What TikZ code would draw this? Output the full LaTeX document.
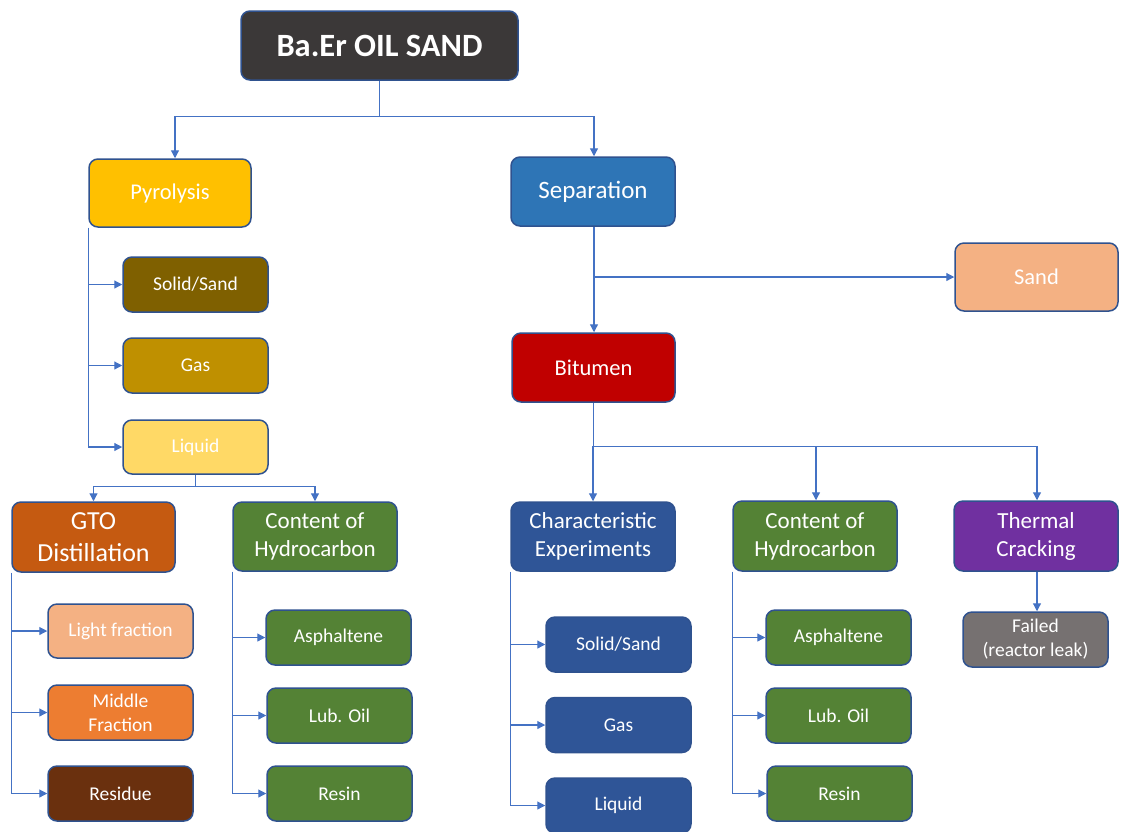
\documentclass[tikz,border=0pt]{standalone}
\usepackage{fontspec}
\setmainfont{Carlito}
\usetikzlibrary{arrows.meta}
\definecolor{bordc}{HTML}{2F528F}
\definecolor{connc}{HTML}{4472C4}
\definecolor{cRoot}{HTML}{3B3838}
\definecolor{cPyro}{HTML}{FFC000}
\definecolor{cSep}{HTML}{2E75B6}
\definecolor{cSand}{HTML}{F4B183}
\definecolor{cBit}{HTML}{C00000}
\definecolor{cSolid}{HTML}{7F6000}
\definecolor{cGas}{HTML}{BF9000}
\definecolor{cLiq}{HTML}{FFD966}
\definecolor{cGTO}{HTML}{C55A11}
\definecolor{cGreen}{HTML}{548235}
\definecolor{cLight}{HTML}{F4B183}
\definecolor{cMid}{HTML}{ED7D31}
\definecolor{cRes}{HTML}{6A300E}
\definecolor{cChar}{HTML}{2F5597}
\definecolor{cTherm}{HTML}{7030A0}
\definecolor{cFail}{HTML}{767171}
\tikzset{
  boxx/.style={draw=bordc, line width=1.5pt, rounded corners=9pt, text=white, align=center, inner sep=0pt},
  big/.style={boxx, minimum width=164pt, minimum height=69pt},
  small/.style={boxx, minimum width=145pt, minimum height=55pt, font=\fontsize{19.5}{24}\selectfont},
  conn/.style={draw=connc, line width=1.2pt},
  arr/.style={conn, -{Triangle[length=8pt,width=8pt]}}
}
\begin{document}
\begin{tikzpicture}[x=1pt,y=-1pt]
\useasboundingbox (0,0) rectangle (1121,831);
% top level
\node[boxx, fill=cRoot, minimum width=277pt, minimum height=69pt, font=\fontsize{32.5}{38}\selectfont\bfseries] (root) at (379.5,45.5) {Ba.Er OIL SAND};
\node[big, fill=cPyro, minimum width=162pt, minimum height=68pt, font=\fontsize{22.5}{27}\selectfont] (pyro) at (170,193) {Pyrolysis};
\node[big, fill=cSep, font=\fontsize{25}{30}\selectfont] (sep) at (593,191.5) {Separation};
\node[big, fill=cSand, minimum width=163pt, minimum height=68pt, font=\fontsize{22.5}{27}\selectfont] (sand) at (1036.5,277) {Sand};
\node[big, fill=cBit, minimum width=163pt, font=\fontsize{22.5}{27}\selectfont] (bit) at (593.5,367.5) {Bitumen};
% pyrolysis children
\node[small, fill=cSolid] (ps1) at (195.5,284.5) {Solid/Sand};
\node[small, fill=cGas] (ps2) at (195.5,365.5) {Gas};
\node[small, fill=cLiq, minimum height=54pt] (ps3) at (195.5,447) {Liquid};
% liquid children
\node[big, fill=cGTO, minimum width=163pt, minimum height=70pt, font=\fontsize{26}{32}\selectfont] (gto) at (93.5,537) {GTO\\Distillation};
\node[big, fill=cGreen, font=\fontsize{23}{28}\selectfont] (coh1) at (315,536.5) {Content of\\Hydrocarbon};
\node[small, fill=cLight, minimum height=54pt] (lf) at (120.5,631) {Light fraction};
\node[small, fill=cMid] (mf) at (120.5,712.5) {Middle\\Fraction};
\node[small, fill=cRes] (res) at (120.5,793.5) {Residue};
\node[small, fill=cGreen] (a1) at (338.5,637.5) {Asphaltene};
\node[small, fill=cGreen] (l1) at (339.5,715.5) {Lub. Oil};
\node[small, fill=cGreen] (r1) at (339.5,793.5) {Resin};
% bitumen children
\node[big, fill=cChar, font=\fontsize{23}{28}\selectfont] (ce) at (593,536.5) {Characteristic\\Experiments};
\node[big, fill=cGreen, minimum height=70pt, font=\fontsize{23}{28}\selectfont] (coh2) at (815,536) {Content of\\Hydrocarbon};
\node[big, fill=cTherm, minimum height=70pt, font=\fontsize{23}{28}\selectfont] (tc) at (1036,536) {Thermal\\Cracking};
\node[small, fill=cFail] (fail) at (1035.5,639.5) {Failed\\(reactor leak)};
\node[small, fill=cChar] (cs1) at (618.5,644.5) {Solid/Sand};
\node[small, fill=cChar] (cs2) at (618.5,725) {Gas};
\node[small, fill=cChar] (cs3) at (618.5,805.5) {Liquid};
\node[small, fill=cGreen] (a2) at (838.5,637.5) {Asphaltene};
\node[small, fill=cGreen] (l2) at (838.5,715.5) {Lub. Oil};
\node[small, fill=cGreen] (r2) at (839.5,793.5) {Resin};
% connectors
\path (root.south) ++(0,36) coordinate (j0);
\draw[conn] (root.south) -- (j0);
\draw[arr] (j0) -| ([xshift=5pt]pyro.north);
\draw[arr] (j0) -| ([xshift=1pt]sep.north);
\draw[arr] ([xshift=1pt]sep.south) -- ([xshift=1pt]sep.south |- bit.north);
\draw[arr] ([xshift=1pt]sep.south |- sand.west) -- (sand.west);
\foreach \c in {ps1,ps2,ps3}{\draw[arr] (pyro.south west) |- (\c.west);}
\path (ps3.south) ++(0,12) coordinate (j1);
\draw[conn] (ps3.south) -- (j1);
\draw[arr] (j1) -| (gto.north);
\draw[arr] (j1) -| (coh1.north);
\foreach \c in {lf,mf,res}{\draw[arr] (gto.south west) |- (\c.west);}
\foreach \c in {a1,l1,r1}{\draw[arr] (coh1.south west) |- (\c.west);}
\path (bit.south) ++(0,44) coordinate (j2);
\draw[conn] (bit.south) -- (j2);
\draw[arr] (j2) -| (ce.north);
\draw[arr] (j2) -| ([xshift=1pt]coh2.north);
\draw[arr] (j2) -| ([xshift=1pt]tc.north);
\draw[arr] ([xshift=1pt]tc.south) -- ([xshift=1pt]tc.south |- fail.north);
\foreach \c in {cs1,cs2,cs3}{\draw[arr] (ce.south west) |- (\c.west);}
\foreach \c in {a2,l2,r2}{\draw[arr] (coh2.south west) |- (\c.west);}
\end{tikzpicture}
\end{document}
